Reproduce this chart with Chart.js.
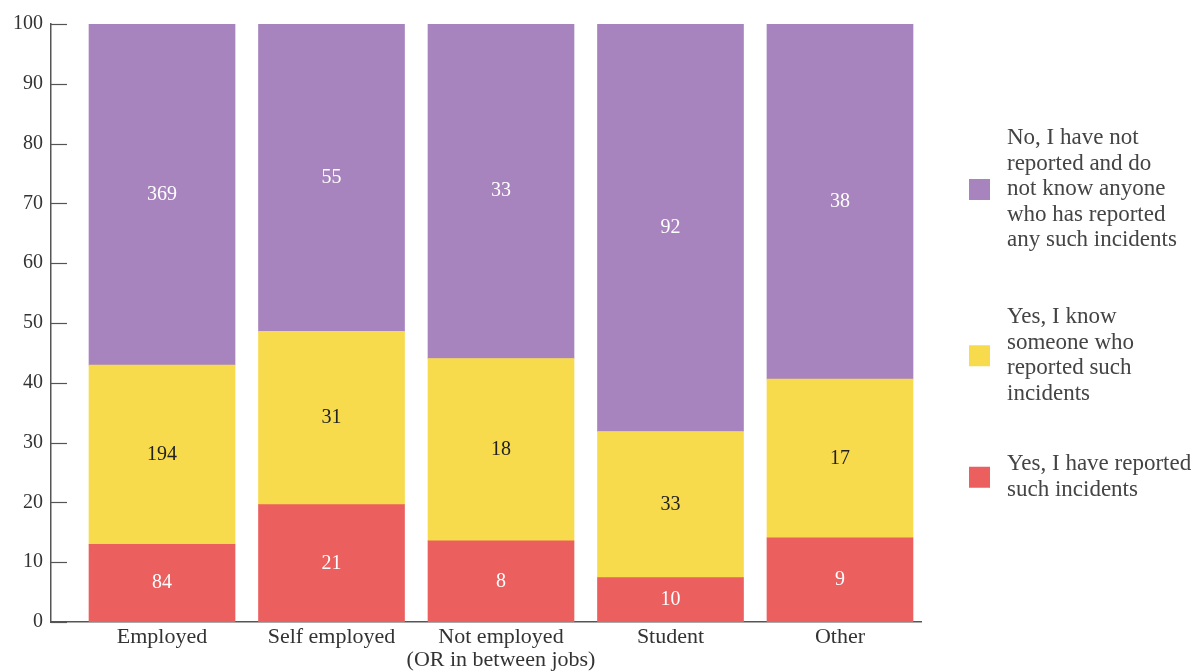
<script src="https://cdn.jsdelivr.net/npm/chart.js"></script>
<style>
  body { margin: 0; background: #fff; }
</style>
<div style="width:1199px;height:672px;position:relative;"><canvas id="myChart"></canvas></div>

<script>
// -- Chart values (counts per answer, per employment status).
const categories = ['Employed', 'Self employed', ['Not employed', '(OR in between jobs)'], 'Student', 'Other'];
const reported    = [84, 21, 8, 10, 9];
const knowSomeone = [194, 31, 18, 33, 17];
const notReported = [369, 55, 33, 92, 38];
const yTicks = [0, 10, 20, 30, 40, 50, 60, 70, 80, 90, 100];

const seriesNames = [
  ['Yes, I have reported', 'such incidents'],
  ['Yes, I know', 'someone who', 'reported such', 'incidents'],
  ['No, I have not', 'reported and do', 'not know anyone', 'who has reported', 'any such incidents'],
];
const seriesColors = ['#EB5F5F', '#F8DB4C', '#A784BD'];
const labelColors  = ['#ffffff', '#222222', '#ffffff'];

const FONT = "'Liberation Serif', 'DejaVu Serif', serif";

const totals = categories.map((_, i) => reported[i] + knowSomeone[i] + notReported[i]);
const toPct = (arr) => arr.map((v, i) => ({x: i, y: v / totals[i] * 100, count: v}));

// -- Draw the count of each segment in its middle.
const segmentLabels = {
  id: 'segmentLabels',
  afterDatasetsDraw(chart) {
    const ctx = chart.ctx;
    ctx.save();
    ctx.font = '20px ' + FONT;
    ctx.textAlign = 'center';
    ctx.textBaseline = 'middle';
    chart.data.datasets.forEach((ds, di) => {
      chart.getDatasetMeta(di).data.forEach((bar, i) => {
        ctx.fillStyle = labelColors[di];
        ctx.fillText(String(ds.data[i].count), bar.x, (bar.y + bar.base) / 2);
      });
    });
    ctx.restore();
  }
};

// -- Small tick marks pointing into the plot, plus the legend on the right.
const extras = {
  id: 'extras',
  afterDraw(chart) {
    const ctx = chart.ctx;
    const {left} = chart.chartArea;
    const y = chart.scales.y;
    ctx.save();
    ctx.strokeStyle = '#555';
    ctx.lineWidth = 1.2;
    yTicks.forEach(v => {
      const py = Math.round(y.getPixelForValue(v)) + 0.5;
      ctx.beginPath();
      ctx.moveTo(left, py);
      ctx.lineTo(left + 16, py);
      ctx.stroke();
    });

    // -- Legend: purple on top, red at the bottom.
    const blocks = [
      {si: 2, top: 138},
      {si: 1, top: 317},
      {si: 0, top: 464},
    ];
    const lineH = 25.5;
    ctx.font = '23px ' + FONT;
    ctx.textAlign = 'left';
    ctx.textBaseline = 'middle';
    blocks.forEach(b => {
      const lines = seriesNames[b.si];
      const mid = b.top + (lines.length - 1) * lineH / 2;
      ctx.fillStyle = seriesColors[b.si];
      ctx.fillRect(969, mid - 10, 21, 21);
      ctx.fillStyle = '#444';
      lines.forEach((t, k) => ctx.fillText(t, 1007, b.top + k * lineH));
    });
    ctx.restore();
  }
};

const chart = new Chart(document.getElementById('myChart'), {
  type: 'bar',
  data: {
    datasets: [0, 1, 2].map(si => ({
      label: seriesNames[si].join(' '),
      data: toPct([reported, knowSomeone, notReported][si]),
      backgroundColor: seriesColors[si],
      borderWidth: 0,
      barThickness: 146,
    })),
  },
  options: {
    responsive: true,
    maintainAspectRatio: false,
    animation: false,
    layout: { padding: { top: 24, right: 278, left: 0, bottom: 0 } },
    plugins: {
      legend: { display: false },
      tooltip: { enabled: false },
    },
    scales: {
      x: {
        type: 'linear',
        stacked: true,
        offset: false,
        min: -0.655,
        max: 4.478,
        afterFit: (s) => { s.height = 50; },
        afterBuildTicks: (s) => { s.ticks = categories.map((_, i) => ({value: i})); },
        grid: { display: false, drawTicks: false, offset: false },
        border: { display: true, color: '#555', width: 1.5 },
        ticks: {
          autoSkip: false,
          maxRotation: 0,
          padding: 3,
          color: '#333',
          font: { family: FONT, size: 22, lineHeight: 1.08 },
          callback: (v) => categories[v],
        },
      },
      y: {
        stacked: true,
        min: 0,
        max: 100,
        afterFit: (s) => { s.width = 51; },
        afterBuildTicks: (s) => { s.ticks = yTicks.map(v => ({value: v})); },
        grid: { display: false, drawTicks: false },
        border: { display: true, color: '#555', width: 1.5 },
        ticks: {
          padding: 8,
          color: '#333',
          font: { family: FONT, size: 20 },
        },
      },
    },
  },
  plugins: [segmentLabels, extras],
});
</script>
